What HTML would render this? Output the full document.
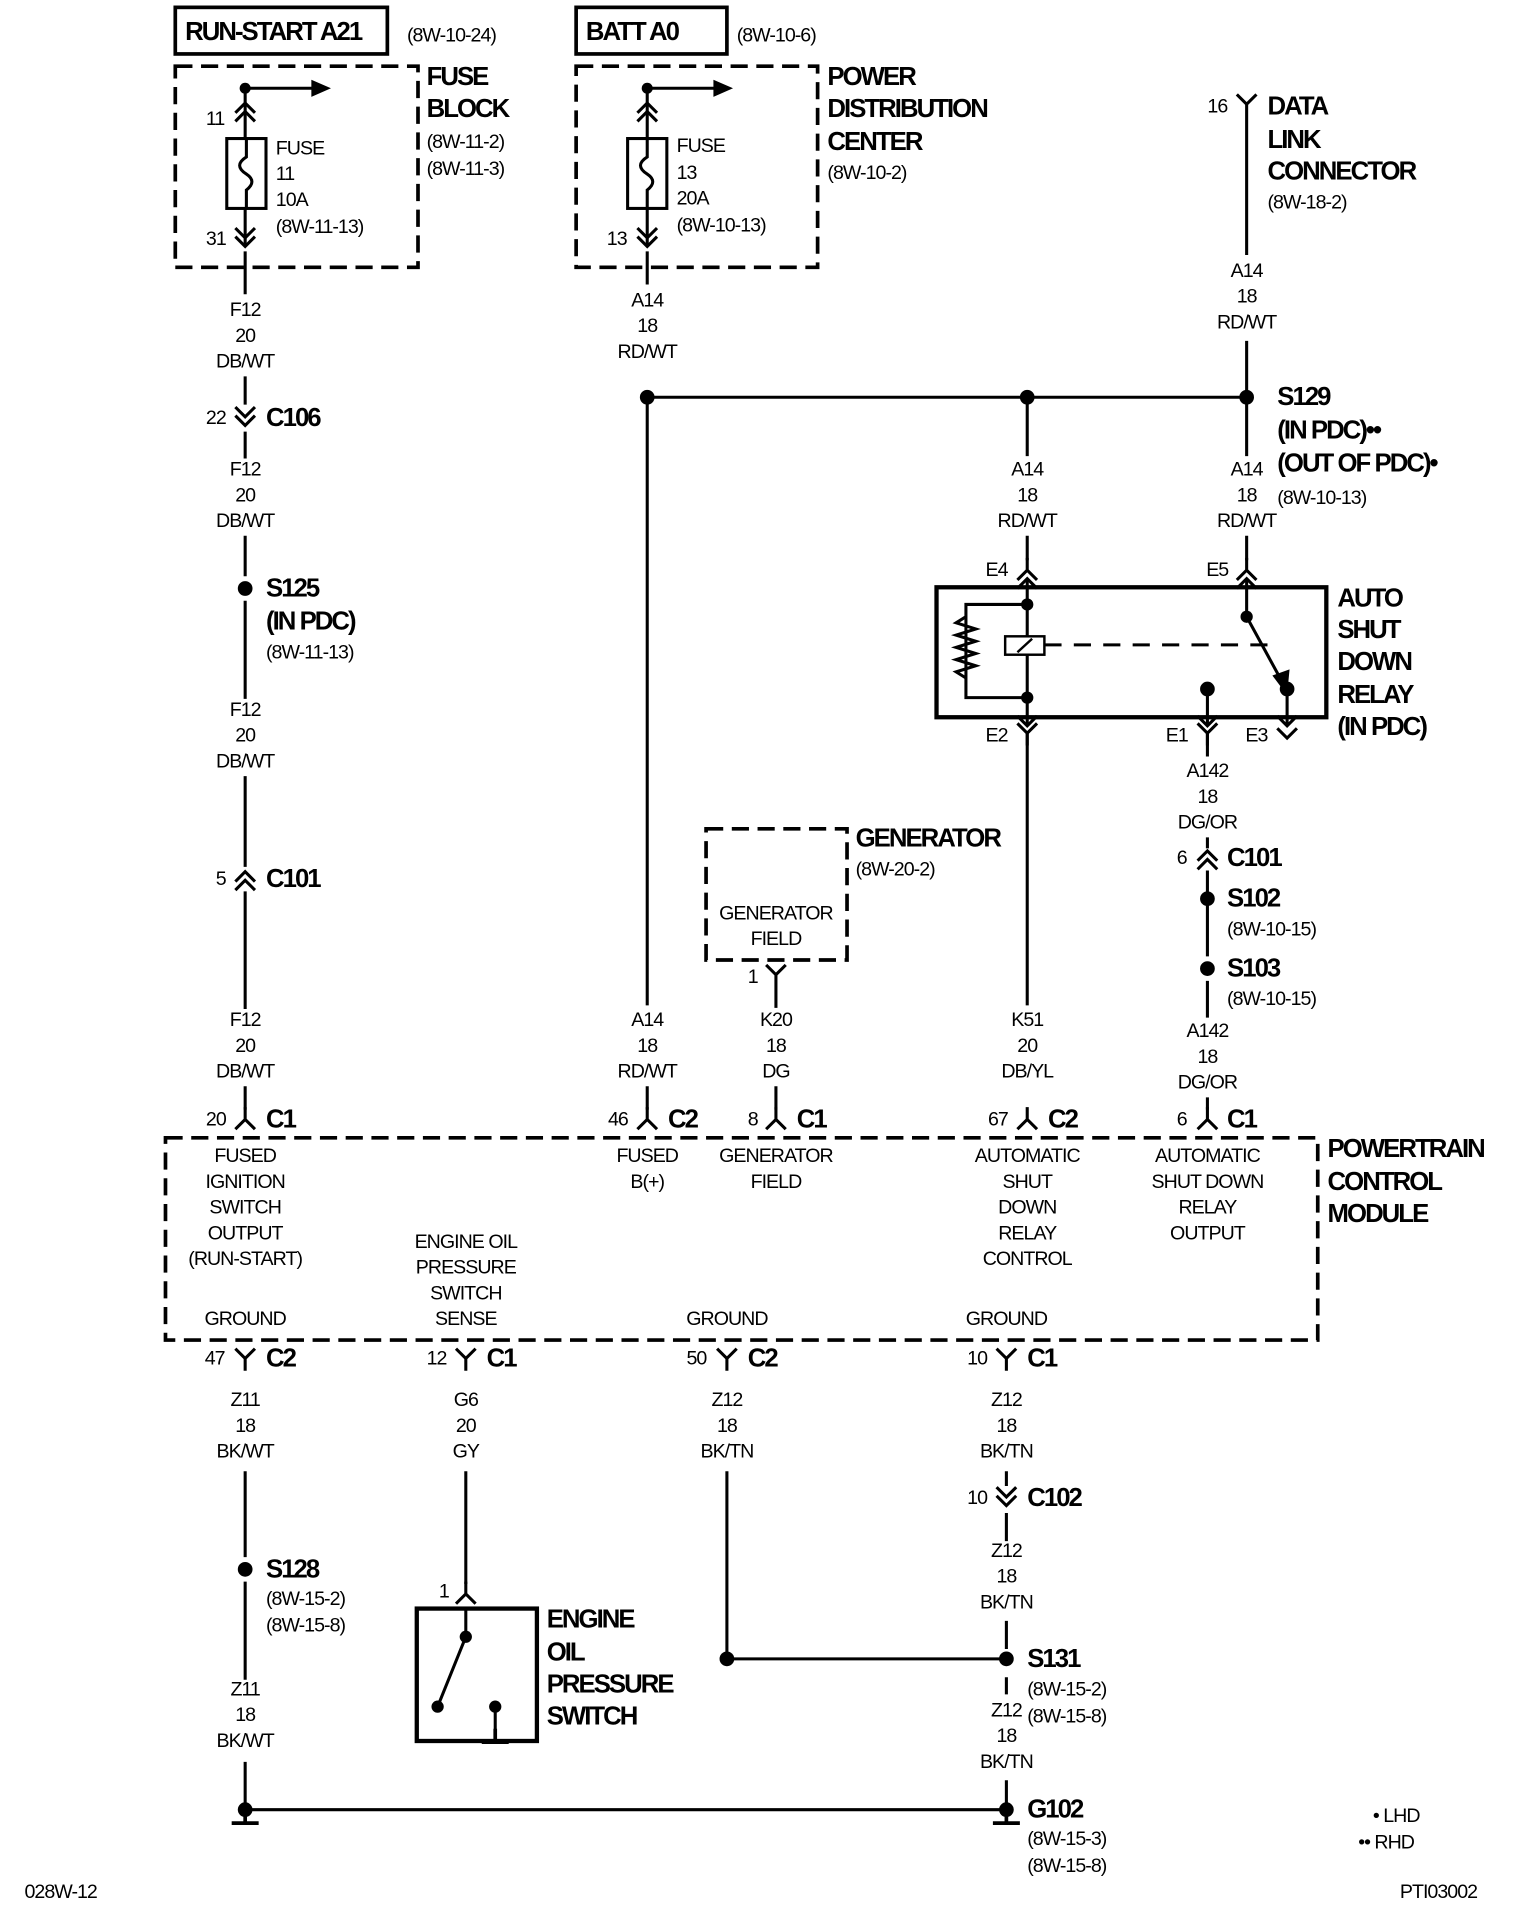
<!DOCTYPE html>
<html><head><meta charset="utf-8"><style>
html,body{margin:0;padding:0;background:#fff;}
svg{display:block;}
text{font-family:"Liberation Sans",Arial,sans-serif;fill:#000;dominant-baseline:central;}
.b{font-weight:bold;font-size:21px;letter-spacing:-1.6px;}
.s{font-size:16px;letter-spacing:-0.8px;}
.c{text-anchor:middle;}
</style></head><body>
<svg width="1520" height="1920" viewBox="0 0 1240 1566" preserveAspectRatio="none" xmlns="http://www.w3.org/2000/svg">
<defs>
<g id="up" fill="none" stroke="#000" stroke-width="2.5"><path d="M0,-10V0M-8,8L0,0L8,8"/></g>
<g id="dn" fill="none" stroke="#000" stroke-width="2.5"><path d="M0,10V0M-8,-8L0,0L8,-8"/></g>
<g id="ddn" fill="none" stroke="#000" stroke-width="2.5"><path d="M-8,-9L0,-1L8,-9M-8,-2L0,6L8,-2"/></g>
<g id="dup" fill="none" stroke="#000" stroke-width="2.5"><path d="M-8,9L0,1L8,9M-8,2L0,-6L8,2"/></g>
<g id="gnd" stroke="#000" stroke-width="3"><path d="M0,0V10M-11,11H11"/></g>
</defs>
<g fill="none" stroke="#000" stroke-width="2.5">
<rect x="143" y="6" width="173" height="38" stroke-width="3"/>
<rect x="470" y="6" width="123" height="38" stroke-width="3"/>
<rect x="143" y="54" width="198" height="164" stroke-width="3" stroke-dasharray="14 7"/>
<rect x="470" y="54" width="197" height="164" stroke-width="3" stroke-dasharray="14 7"/>
<path d="M200,72H255M528,72H583"/>
<path d="M200,72V200M528,72V200"/>
<rect x="185" y="113" width="32" height="57" fill="#fff"/>
<rect x="512" y="113" width="32" height="57" fill="#fff"/>
<path d="M201,113V128Q190,135 201,142Q210,148 201,155V170M528,113V128Q517,135 528,142Q537,148 528,155V170"/>
<path d="M200,205V240M200,307V330M200,352V374M200,437V470M200,490V570M200,633V707M200,727V823M200,886V905"/>
<path d="M528,205V232M528,324V820M528,886V905"/>
<path d="M528,324H1017"/>
<path d="M1017,95V208M1017,278V372M1017,437V457M838,324V372M838,437V457"/>
<rect x="764" y="479" width="318" height="106" stroke-width="3.5"/>
<path d="M838,472V592M838,493H788V569H838"/>
<path d="M788,503l-8,5l16,5l-16,5l16,5l-16,5l16,5l-16,5l16,5l-16,5l8,5"/>
<rect x="820" y="519" width="32" height="15" fill="#fff" stroke-width="2"/>
<path d="M830,532L842,521" stroke-width="2"/>
<path d="M852,526H1035" stroke-dasharray="14 10"/>
<path d="M1017,472V503L1047,558"/>
<path d="M985,562V592M1050,562V592"/>
<path d="M830,480L838,472L846,480M1009,480L1017,472L1025,480M830,584L838,592L846,584M977,584L985,592L993,584M1042,584L1050,592L1058,584"/>
<path d="M838,598V820M985,598V617M985,683V692M985,710V780M985,800V830M985,895V905M633,805V822M633,886V905"/>
<rect x="576" y="676" width="115" height="107" stroke-width="3" stroke-dasharray="14 7"/>
<rect x="135" y="928" width="940" height="165" stroke-width="3" stroke-dasharray="14 7"/>
<path d="M200,1200V1270M200,1290V1370M200,1437V1476M380,1200V1292M593,1200V1353M593,1353H821M821,1200V1212M821,1234V1257M821,1322V1345M821,1368V1382M821,1452V1476M200,1476H821"/>
<rect x="340" y="1312" width="98" height="108" stroke-width="3.5"/>
<path d="M380,1312V1335L357,1392M404,1392V1418"/>
</g>
<g fill="#000">
<path d="M270,72L254,65V79Z M598,72L582,65V79Z"/>
<path d="M1050,567L1038,551L1052,546Z"/>
<circle cx="200" cy="72" r="4.5"/><circle cx="528" cy="72" r="4.5"/>
<circle cx="528" cy="324" r="6"/><circle cx="838" cy="324" r="6"/><circle cx="1017" cy="324" r="6"/>
<circle cx="200" cy="480" r="6"/>
<circle cx="838" cy="493" r="5"/><circle cx="838" cy="569" r="5"/>
<circle cx="1017" cy="503" r="5"/><circle cx="985" cy="562" r="6"/><circle cx="1050" cy="562" r="6"/>
<circle cx="985" cy="733" r="6"/><circle cx="985" cy="790" r="6"/>
<circle cx="200" cy="1280" r="6"/><circle cx="593" cy="1353" r="6"/><circle cx="821" cy="1353" r="6"/>
<circle cx="200" cy="1476" r="6"/><circle cx="821" cy="1476" r="6"/>
<circle cx="380" cy="1335" r="5"/><circle cx="357" cy="1392" r="5"/><circle cx="404" cy="1392" r="5"/>
</g>
<g>
<use href="#dup" x="200" y="90"/><use href="#ddn" x="200" y="195"/>
<use href="#dup" x="528" y="90"/><use href="#ddn" x="528" y="195"/>
<use href="#dn" x="1017" y="85"/>
<use href="#ddn" x="200" y="341"/>
<use href="#dup" x="200" y="717"/>
<use href="#up" x="200" y="913"/><use href="#up" x="528" y="913"/><use href="#up" x="633" y="913"/><use href="#up" x="838" y="913"/><use href="#up" x="985" y="913"/>
<use href="#up" x="838" y="465"/><use href="#up" x="1017" y="465"/>
<use href="#dn" x="838" y="598"/><use href="#dn" x="985" y="598"/>
<path d="M1042,594L1050,602L1058,594" fill="none" stroke="#000" stroke-width="2.5"/>
<use href="#dup" x="985" y="700"/>
<use href="#dn" x="633" y="795"/>
<use href="#dn" x="200" y="1108"/><use href="#dn" x="380" y="1108"/><use href="#dn" x="593" y="1108"/><use href="#dn" x="821" y="1108"/>
<use href="#up" x="380" y="1300"/>
<use href="#ddn" x="821" y="1222"/>
<use href="#gnd" x="200" y="1476"/><use href="#gnd" x="821" y="1476"/><use href="#gnd" x="404" y="1410"/>
</g>
<text class="b" x="151" y="26">RUN-START A21</text>
<text class="s" x="332" y="29">(8W-10-24)</text>
<text class="b" x="478" y="26">BATT A0</text>
<text class="s" x="601" y="29">(8W-10-6)</text>
<text class="b" x="348" y="63">FUSE</text><text class="b" x="348" y="89">BLOCK</text>
<text class="s" x="348" y="116">(8W-11-2)</text><text class="s" x="348" y="138">(8W-11-3)</text>
<text class="s" x="225" y="121">FUSE</text><text class="s" x="225" y="142">11</text><text class="s" x="225" y="163">10A</text><text class="s" x="225" y="185">(8W-11-13)</text>
<text class="s" x="168" y="97">11</text><text class="s" x="168" y="195">31</text>
<text class="b" x="675" y="63">POWER</text><text class="b" x="675" y="89">DISTRIBUTION</text><text class="b" x="675" y="116">CENTER</text><text class="s" x="675" y="141">(8W-10-2)</text>
<text class="s" x="552" y="119">FUSE</text><text class="s" x="552" y="141">13</text><text class="s" x="552" y="162">20A</text><text class="s" x="552" y="184">(8W-10-13)</text>
<text class="s" x="495" y="195">13</text>
<text class="b" x="1034" y="87">DATA</text><text class="b" x="1034" y="114">LINK</text><text class="b" x="1034" y="140">CONNECTOR</text><text class="s" x="1034" y="165">(8W-18-2)</text>
<text class="s" x="985" y="87">16</text>
<text class="s c" x="200" y="253">F12</text><text class="s c" x="200" y="274">20</text><text class="s c" x="200" y="295">DB/WT</text>
<text class="s c" x="200" y="383">F12</text><text class="s c" x="200" y="404">20</text><text class="s c" x="200" y="425">DB/WT</text>
<text class="s c" x="200" y="579">F12</text><text class="s c" x="200" y="600">20</text><text class="s c" x="200" y="621">DB/WT</text>
<text class="s c" x="200" y="832">F12</text><text class="s c" x="200" y="853">20</text><text class="s c" x="200" y="874">DB/WT</text>
<text class="s c" x="528" y="245">A14</text><text class="s c" x="528" y="266">18</text><text class="s c" x="528" y="287">RD/WT</text>
<text class="s c" x="1017" y="221">A14</text><text class="s c" x="1017" y="242">18</text><text class="s c" x="1017" y="263">RD/WT</text>
<text class="s c" x="838" y="383">A14</text><text class="s c" x="838" y="404">18</text><text class="s c" x="838" y="425">RD/WT</text>
<text class="s c" x="1017" y="383">A14</text><text class="s c" x="1017" y="404">18</text><text class="s c" x="1017" y="425">RD/WT</text>
<text class="s c" x="985" y="629">A142</text><text class="s c" x="985" y="650">18</text><text class="s c" x="985" y="671">DG/OR</text>
<text class="s c" x="985" y="841">A142</text><text class="s c" x="985" y="862">18</text><text class="s c" x="985" y="883">DG/OR</text>
<text class="s c" x="528" y="832">A14</text><text class="s c" x="528" y="853">18</text><text class="s c" x="528" y="874">RD/WT</text>
<text class="s c" x="633" y="832">K20</text><text class="s c" x="633" y="853">18</text><text class="s c" x="633" y="874">DG</text>
<text class="s c" x="838" y="832">K51</text><text class="s c" x="838" y="853">20</text><text class="s c" x="838" y="874">DB/YL</text>
<text class="s c" x="633" y="745">GENERATOR</text><text class="s c" x="633" y="766">FIELD</text>
<text class="s c" x="200" y="943">FUSED</text><text class="s c" x="200" y="964">IGNITION</text><text class="s c" x="200" y="985">SWITCH</text><text class="s c" x="200" y="1006">OUTPUT</text><text class="s c" x="200" y="1027">(RUN-START)</text>
<text class="s c" x="528" y="943">FUSED</text><text class="s c" x="528" y="964">B(+)</text>
<text class="s c" x="633" y="943">GENERATOR</text><text class="s c" x="633" y="964">FIELD</text>
<text class="s c" x="838" y="943">AUTOMATIC</text><text class="s c" x="838" y="964">SHUT</text><text class="s c" x="838" y="985">DOWN</text><text class="s c" x="838" y="1006">RELAY</text><text class="s c" x="838" y="1027">CONTROL</text>
<text class="s c" x="985" y="943">AUTOMATIC</text><text class="s c" x="985" y="964">SHUT DOWN</text><text class="s c" x="985" y="985">RELAY</text><text class="s c" x="985" y="1006">OUTPUT</text>
<text class="s c" x="380" y="1013">ENGINE OIL</text><text class="s c" x="380" y="1034">PRESSURE</text><text class="s c" x="380" y="1055">SWITCH</text><text class="s c" x="380" y="1076">SENSE</text>
<text class="s c" x="200" y="1076">GROUND</text><text class="s c" x="593" y="1076">GROUND</text><text class="s c" x="821" y="1076">GROUND</text>
<text class="s c" x="200" y="1142">Z11</text><text class="s c" x="200" y="1163">18</text><text class="s c" x="200" y="1184">BK/WT</text>
<text class="s c" x="380" y="1142">G6</text><text class="s c" x="380" y="1163">20</text><text class="s c" x="380" y="1184">GY</text>
<text class="s c" x="593" y="1142">Z12</text><text class="s c" x="593" y="1163">18</text><text class="s c" x="593" y="1184">BK/TN</text>
<text class="s c" x="821" y="1142">Z12</text><text class="s c" x="821" y="1163">18</text><text class="s c" x="821" y="1184">BK/TN</text>
<text class="s c" x="821" y="1265">Z12</text><text class="s c" x="821" y="1286">18</text><text class="s c" x="821" y="1307">BK/TN</text>
<text class="s c" x="821" y="1395">Z12</text><text class="s c" x="821" y="1416">18</text><text class="s c" x="821" y="1437">BK/TN</text>
<text class="s c" x="200" y="1378">Z11</text><text class="s c" x="200" y="1399">18</text><text class="s c" x="200" y="1420">BK/WT</text>
<text class="s" x="168" y="341">22</text><text class="b" x="217" y="341">C106</text>
<text class="b" x="217" y="480">S125</text><text class="b" x="217" y="507">(IN PDC)</text><text class="s" x="217" y="532">(8W-11-13)</text>
<text class="s" x="176" y="717">5</text><text class="b" x="217" y="717">C101</text>
<text class="s" x="168" y="913">20</text><text class="b" x="217" y="913">C1</text>
<text class="s" x="496" y="913">46</text><text class="b" x="545" y="913">C2</text>
<text class="s" x="610" y="913">8</text><text class="b" x="650" y="913">C1</text>
<text class="s" x="806" y="913">67</text><text class="b" x="855" y="913">C2</text>
<text class="s" x="960" y="913">6</text><text class="b" x="1001" y="913">C1</text>
<text class="b" x="1042" y="324">S129</text><text class="b" x="1042" y="351">(IN PDC)••</text><text class="b" x="1042" y="378">(OUT OF PDC)•</text><text class="s" x="1042" y="406">(8W-10-13)</text>
<text class="s" x="804" y="465">E4</text><text class="s" x="984" y="465">E5</text>
<text class="s" x="804" y="600">E2</text><text class="s" x="951" y="600">E1</text><text class="s" x="1016" y="600">E3</text>
<text class="b" x="1091" y="488">AUTO</text><text class="b" x="1091" y="514">SHUT</text><text class="b" x="1091" y="540">DOWN</text><text class="b" x="1091" y="567">RELAY</text><text class="b" x="1091" y="593">(IN PDC)</text>
<text class="s" x="960" y="700">6</text><text class="b" x="1001" y="700">C101</text>
<text class="b" x="1001" y="733">S102</text><text class="s" x="1001" y="758">(8W-10-15)</text>
<text class="b" x="1001" y="790">S103</text><text class="s" x="1001" y="815">(8W-10-15)</text>
<text class="b" x="698" y="684">GENERATOR</text><text class="s" x="698" y="709">(8W-20-2)</text>
<text class="s" x="610" y="797">1</text>
<text class="b" x="1083" y="937">POWERTRAIN</text><text class="b" x="1083" y="964">CONTROL</text><text class="b" x="1083" y="990">MODULE</text>
<text class="s" x="167" y="1108">47</text><text class="b" x="217" y="1108">C2</text>
<text class="s" x="348" y="1108">12</text><text class="b" x="397" y="1108">C1</text>
<text class="s" x="560" y="1108">50</text><text class="b" x="610" y="1108">C2</text>
<text class="s" x="789" y="1108">10</text><text class="b" x="838" y="1108">C1</text>
<text class="s" x="789" y="1222">10</text><text class="b" x="838" y="1222">C102</text>
<text class="b" x="217" y="1280">S128</text><text class="s" x="217" y="1304">(8W-15-2)</text><text class="s" x="217" y="1326">(8W-15-8)</text>
<text class="s" x="358" y="1298">1</text>
<text class="b" x="446" y="1321">ENGINE</text><text class="b" x="446" y="1348">OIL</text><text class="b" x="446" y="1374">PRESSURE</text><text class="b" x="446" y="1400">SWITCH</text>
<text class="b" x="838" y="1353">S131</text><text class="s" x="838" y="1378">(8W-15-2)</text><text class="s" x="838" y="1400">(8W-15-8)</text>
<text class="b" x="838" y="1476">G102</text><text class="s" x="838" y="1500">(8W-15-3)</text><text class="s" x="838" y="1522">(8W-15-8)</text>
<text class="s" x="1120" y="1481">• LHD</text><text class="s" x="1108" y="1503">•• RHD</text>
<text class="s" x="20" y="1543">028W-12</text><text class="s" x="1142" y="1543">PTI03002</text>
</svg>
</body></html>
